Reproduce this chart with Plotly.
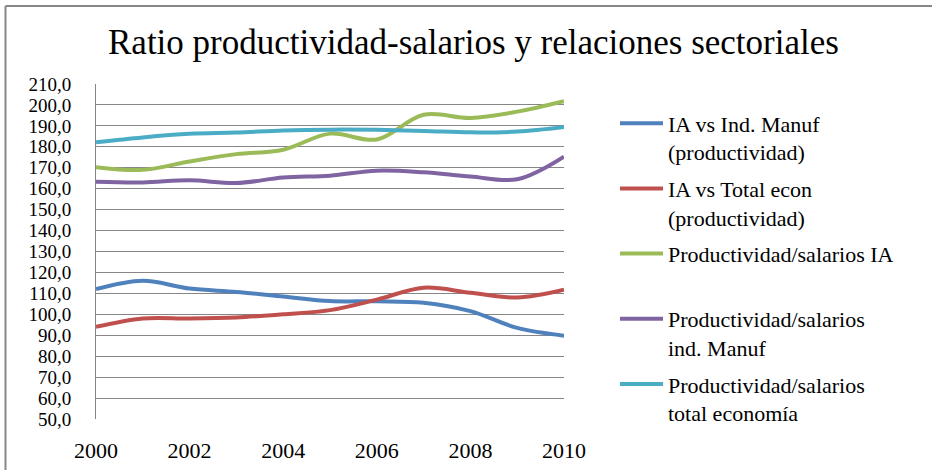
import plotly.graph_objects as go

years = [2000, 2001, 2002, 2003, 2004, 2005, 2006, 2007, 2008, 2009, 2010]
ia_vs_manuf = [112.0, 116.0, 112.3, 110.7, 108.5, 106.3, 106.2, 105.5, 101.5, 93.5, 89.8]
ia_vs_total = [94.0, 98.0, 98.0, 98.5, 100.0, 102.0, 107.0, 112.7, 110.3, 108.0, 111.7]
prod_sal_ia = [170.3, 169.0, 173.0, 176.5, 178.6, 186.3, 183.5, 195.3, 193.8, 196.8, 201.8]
prod_sal_manuf = [163.3, 163.0, 164.0, 162.7, 165.3, 166.2, 168.6, 167.8, 165.8, 164.5, 175.3]
prod_sal_total = [182.2, 184.5, 186.2, 186.8, 187.8, 188.2, 188.1, 187.6, 186.9, 187.3, 189.5]

series_names = [
    "IA vs Ind. Manuf<br>(productividad)",
    "IA vs Total econ<br>(productividad)",
    "Productividad/salarios IA<br> ",
    "Productividad/salarios<br>ind. Manuf",
    "Productividad/salarios<br>total economía",
]
series_values = [ia_vs_manuf, ia_vs_total, prod_sal_ia, prod_sal_manuf, prod_sal_total]
colors = ["#4F81BD", "#C0504D", "#9BBB59", "#8064A2", "#4BACC6"]

x_ticks = [2000, 2002, 2004, 2006, 2008, 2010]
y_ticks = list(range(50, 211, 10))

FONT = "Liberation Serif, DejaVu Serif, serif"

fig = go.Figure()
for i, (name, vals, col) in enumerate(zip(series_names, series_values, colors)):
    fig.add_trace(go.Scatter(
        x=years, y=vals, name=name, mode="lines",
        line=dict(color=col, width=4, shape="spline", smoothing=1.0),
        legendgroup=f"g{i}",
    ))

fig.update_layout(
    width=932, height=470,
    margin=dict(l=96, r=368, t=84, b=51, autoexpand=False),
    paper_bgcolor="white", plot_bgcolor="white",
    separators=",.",
    font=dict(family=FONT, color="black"),
    title=dict(text="Ratio productividad-salarios y relaciones sectoriales",
               font=dict(family=FONT, size=35, color="black"),
               x=0.508, xanchor="center", xref="container",
               y=0.912, yanchor="middle", yref="container"),
    showlegend=True,
    legend=dict(x=1.109, xanchor="left", y=0.945, yanchor="top",
                font=dict(family=FONT, size=22, color="black"),
                valign="top", itemwidth=43, tracegroupgap=5,
                bgcolor="rgba(0,0,0,0)"),
    xaxis=dict(range=[2000, 2010], tickvals=x_ticks, ticktext=[str(t) for t in x_ticks],
               showgrid=False, zeroline=False, showline=False, automargin=False,
               ticks="outside", ticklen=12, tickcolor="rgba(0,0,0,0)",
               tickfont=dict(family=FONT, size=22, color="black")),
    yaxis=dict(range=[50, 210], tickvals=y_ticks, tickformat=".1f", automargin=False,
               showgrid=True, gridcolor="#868686", gridwidth=1,
               zeroline=False, showline=True, linecolor="#868686", linewidth=1,
               ticks="outside", ticklen=20, tickcolor="rgba(0,0,0,0)",
               tickfont=dict(family=FONT, size=19, color="black")),
    shapes=[
        dict(type="line", xref="paper", yref="paper", x0=-0.1934, x1=-0.1934, y0=1.2328, y1=-0.5,
             line=dict(color="#878787", width=2)),
        dict(type="line", xref="paper", yref="paper", x0=-0.1934, x1=1.9, y0=1.2328, y1=1.2328,
             line=dict(color="#878787", width=2)),
    ],
)

fig.write_html("out.html", config={"displayModeBar": False},
               post_script="document.body.style.margin='0';document.body.style.overflow='hidden';")
